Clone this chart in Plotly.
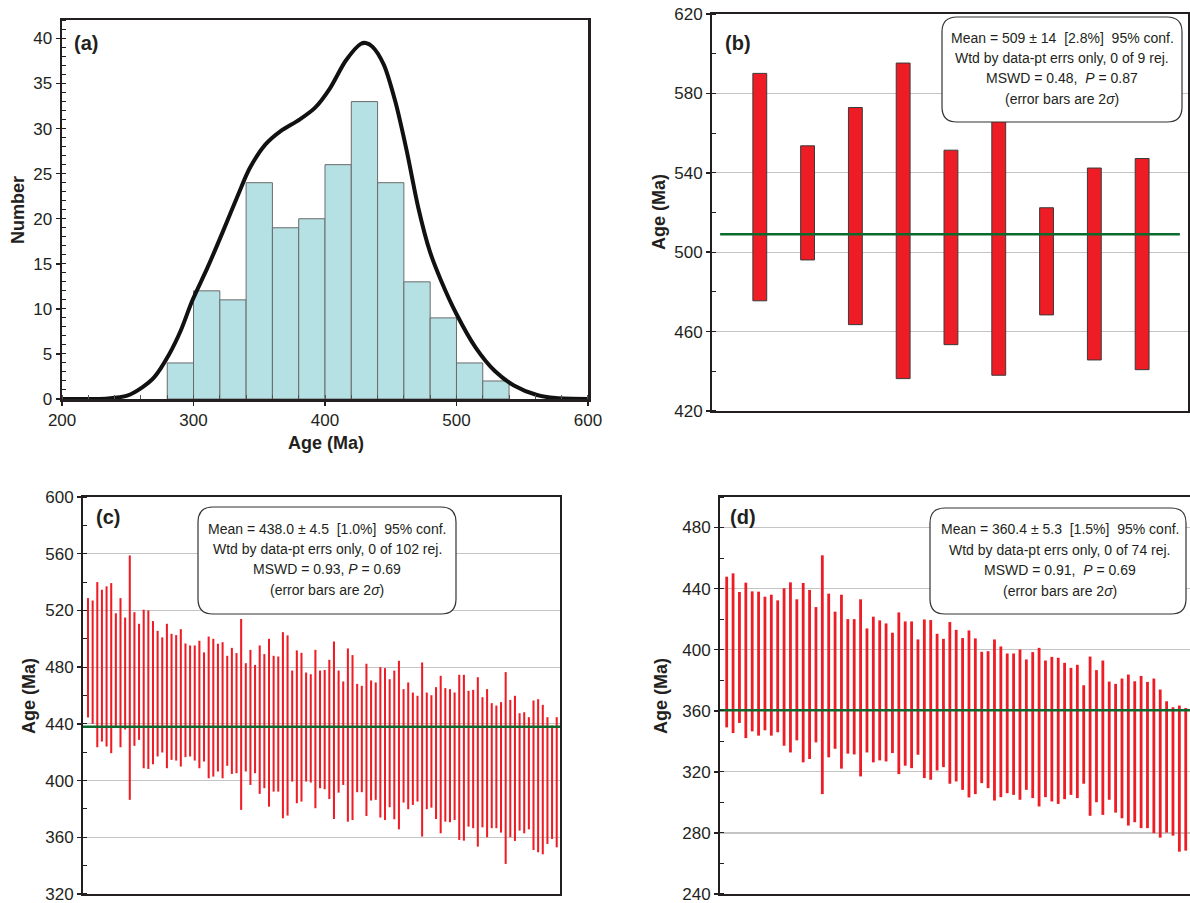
import plotly.graph_objects as go

# ---------------- DATA ----------------
# Panel (a): histogram (20 Ma bins) + probability density curve
hist_bin_start = [280, 300, 320, 340, 360, 380, 400, 420, 440, 460, 480, 500, 520]
hist_counts = [4, 12, 11, 24, 19, 20, 26, 33, 24, 13, 9, 4, 2]
hist_bin_width = 20
kde_age = [200, 235, 249.5, 261, 270, 281.6, 290.3, 299, 310.7, 322.4, 334, 342.7, 354.4,
           366, 380.6, 392.3, 403.9, 415.6, 427.2, 431, 436, 444.7, 453.5, 462.2, 471, 479.7,
           488.4, 500.1, 514.6, 529.2, 543.7, 561.2, 575.7, 600]
kde_num = [0, 0.07, 0.37, 1.3, 2.4, 5.0, 7.6, 10.9, 14.6, 18.6, 22.7, 25.6, 28.2,
           29.7, 31.0, 32.3, 34.5, 37.5, 39.4, 39.5, 39.1, 37.1, 33.0, 27.5, 21.2, 16.4,
           13.1, 9.4, 5.7, 3.1, 1.5, 0.44, 0.1, 0]

# Panel (b): 9 ages, 2-sigma bars
b_top = [590.1, 553.6, 572.9, 595.3, 551.4, 566.0, 522.4, 542.4, 547.2]
b_bottom = [475.5, 496.1, 463.5, 436.3, 453.4, 438.0, 468.4, 445.7, 440.8]
b_mean = 509
b_text = ["Mean = 509 ± 14  [2.8%]  95% conf.",
          "Wtd by data-pt errs only, 0 of 9 rej.",
          "MSWD = 0.48,  <i>P</i> = 0.87",
          "(error bars are 2<i>σ</i>)"]

# Panel (c): 102 ages
c_top = [528.7, 527, 540, 534.6, 537, 539.3, 518, 528.7, 515, 558.8,
         518.8, 510.6, 520.5, 520, 512.5, 505.6, 501, 510.6, 503.5, 502.6,
         506.8, 496.7, 495.3, 495.3, 498.6, 490.4, 501.6, 500, 496.5, 497.6,
         488, 493.6, 489.9, 514, 482.8, 492.2, 481.6, 495.3, 489.2, 500,
         488, 487.5, 504.7, 502.4, 477.6, 491.8, 490.1, 476.2, 475, 492.2,
         477.6, 478, 485.2, 498.1, 477.6, 469.9, 493.2, 488.5, 468.2, 466.8,
         482.4, 470.6, 469.2, 480, 479.3, 471.5, 477.6, 484.5, 464.5, 469.2,
         462.1, 459.8, 483.3, 462.1, 460.2, 465.9, 473.9, 465.2, 464.5, 462.1,
         474.6, 474.6, 463.3, 464, 472.9, 458.8, 464.5, 454.6, 452.9, 455.3,
         476.5, 456.9, 459.8, 447.5, 448.2, 444.7, 456.5, 457.4, 453.4, 444.7,
         438.8, 444.7]
c_bottom = [444.5, 440, 423.5, 427.5, 424, 419.3, 437, 423.5, 436, 386.4,
            424.5, 428.7, 408.7, 408.2, 411.5, 417, 419.8, 408.7, 414.6, 414.1,
            409.9, 416.5, 417, 414.1, 408.7, 413.4, 401.6, 402.8, 406.4, 401.6,
            410.4, 404.7, 405.2, 379.3, 406.4, 396.9, 405.2, 390.6, 394.6, 381.6,
            392.2, 392.2, 373.4, 375.3, 399.3, 384, 385.2, 399.3, 398.6, 380.5,
            394.6, 393.9, 387, 372.9, 391.5, 396.9, 371, 372.2, 391.8, 391.8,
            375, 385.9, 386.4, 373.9, 372.2, 381.2, 372.7, 365.6, 384.5, 379.8,
            382.8, 385.2, 360.5, 379.8, 380.9, 372.9, 362.8, 371, 370.6, 372.2,
            358.1, 357.6, 367.5, 366.4, 353.4, 367, 360, 366.4, 366.4, 363.3,
            341.2, 360, 357.4, 364.7, 362.8, 365.6, 351, 349.4, 348, 355.3,
            358.8, 352.9]
c_mean = 438.0
c_text = ["Mean = 438.0 ± 4.5  [1.0%]  95% conf.",
          "Wtd by data-pt errs only, 0 of 102 rej.",
          "MSWD = 0.93, <i>P</i> = 0.69",
          "(error bars are 2<i>σ</i>)"]

# Panel (d): 74 ages
d_top = [447.8, 450, 437.8, 443.9, 438.2, 438, 434.7, 436, 432.3, 440.2,
         444.1, 433, 443.7, 439.1, 427.9, 461.8, 436.7, 424.9, 436, 420,
         420, 433, 413.9, 421.6, 419.2, 417.2, 411.1, 424.4, 418.5, 418.5,
         406.7, 419.8, 419.4, 410.4, 407.1, 418.1, 413, 407.6, 412.6, 407.4,
         398.6, 399, 406.7, 402.1, 397.5, 397.5, 400.1, 393.6, 398.4, 401.2,
         392.9, 395.3, 394.7, 391.4, 388.1, 390.1, 376.7, 395.5, 386.6, 392.9,
         379.1, 377.6, 381.1, 383.7, 379.3, 382.8, 378.9, 381.1, 373.9, 366.2,
         362.3, 363.4, 361.8, 360.0]
d_bottom = [349.1, 345.4, 352, 342.1, 346.5, 343.7, 347.2, 343.7, 345.9, 337.1,
            332.7, 340.6, 326.2, 328.4, 339.3, 305.4, 329.5, 335.1, 322.1, 331.9,
            331.4, 317, 332.7, 326.2, 327.5, 326.8, 332.3, 318.5, 324, 322.4,
            331.2, 315.9, 314.8, 320.9, 323.1, 312.2, 313.7, 308.2, 303.2, 305.4,
            312.6, 309.3, 301.2, 303.4, 306, 304.9, 301.7, 308.2, 302.8, 297.3,
            303.4, 300.6, 299, 302.1, 304.9, 302.8, 312.2, 291.2, 300.1, 291.8,
            301.7, 293.3, 289.6, 284.8, 287, 283.1, 283.1, 279.8, 276.9, 280.2,
            278.2, 267.7, 268.4, 266.0]
d_mean = 360.4
d_text = ["Mean = 360.4 ± 5.3  [1.5%]  95% conf.",
          "Wtd by data-pt errs only, 0 of 74 rej.",
          "MSWD = 0.91,  <i>P</i> = 0.69",
          "(error bars are 2<i>σ</i>)"]

# ---------------- LAYOUT HELPERS ----------------
# The page body margin is removed (post_script), so figure pixels = window pixels.
W, H = 1190, 903
def fx(px):
    return px / W
def fy(py):
    return 1 - py / H

RED = "#ee1c25"
GREEN = "#0b6b2e"
INK = "#231f20"
GRID = "#c4c4c4"
FONT = "Liberation Sans, Arial, sans-serif"
EPS = 0.02

fig = go.Figure()

# Panel (a)
fig.add_trace(go.Bar(
    x=[s + hist_bin_width / 2 for s in hist_bin_start], y=hist_counts, width=hist_bin_width,
    marker=dict(color="#b5e1e4", line=dict(color="#6a6a6a", width=1)),
    xaxis="x", yaxis="y", showlegend=False))
fig.add_trace(go.Scatter(
    x=kde_age, y=kde_num, mode="lines", line=dict(color="#111111", width=4, shape="spline", smoothing=0.8),
    xaxis="x", yaxis="y", showlegend=False))

# Panel (b)
nb = len(b_top)
fig.add_trace(go.Bar(
    x=list(range(1, nb + 1)), y=[t - b for t, b in zip(b_top, b_bottom)], base=b_bottom, width=0.29,
    marker=dict(color=RED, line=dict(color="#3a3a3a", width=1)),
    xaxis="x2", yaxis="y2", showlegend=False))
fig.add_trace(go.Scatter(
    x=[0.17, 9.79], y=[b_mean, b_mean], mode="lines", line=dict(color=GREEN, width=2.5),
    xaxis="x2", yaxis="y2", showlegend=False))

# Panel (c)
nc = len(c_top)
fig.add_trace(go.Bar(
    x=list(range(1, nc + 1)), y=[t - b for t, b in zip(c_top, c_bottom)], base=c_bottom, width=0.44,
    marker=dict(color=RED, line=dict(width=0)),
    xaxis="x3", yaxis="y3", showlegend=False))
fig.add_trace(go.Scatter(
    x=[-0.08, 102.71], y=[c_mean, c_mean], mode="lines", line=dict(color=GREEN, width=2.5),
    xaxis="x3", yaxis="y3", showlegend=False))

# Panel (d)
nd = len(d_top)
fig.add_trace(go.Bar(
    x=list(range(1, nd + 1)), y=[t - b for t, b in zip(d_top, d_bottom)], base=d_bottom, width=0.44,
    marker=dict(color=RED, line=dict(width=0)),
    xaxis="x4", yaxis="y4", showlegend=False))
fig.add_trace(go.Scatter(
    x=[-0.05, 73.67], y=[d_mean, d_mean], mode="lines", line=dict(color=GREEN, width=2.5),
    xaxis="x4", yaxis="y4", showlegend=False))

tickfont = dict(family=FONT, size=17, color=INK)

def yax(domain, lo, hi, dtick, minor_dtick, anchor, grid, lw=2, minor_ticks="inside"):
    return dict(domain=domain, range=[lo - EPS, hi + EPS], anchor=anchor,
                tickvals=list(range(lo, hi + 1, dtick)), ticklabeloverflow="allow",
                showline=True, linecolor=INK, linewidth=lw, mirror=True,
                ticks="outside", ticklen=4, tickwidth=1.5, tickcolor=INK,
                minor=dict(dtick=minor_dtick, tick0=lo, ticks=minor_ticks, ticklen=4,
                           tickwidth=1, tickcolor=INK, showgrid=False),
                showgrid=grid, gridcolor=GRID, gridwidth=1.3, zeroline=False,
                tickfont=tickfont, automargin=False, fixedrange=True)

def xax_blank(domain, rng, anchor, mirror=True):
    return dict(domain=domain, range=rng, anchor=anchor, showline=True, linecolor=INK,
                linewidth=2, mirror=mirror, ticks="", showticklabels=False,
                showgrid=False, zeroline=False, automargin=False, fixedrange=True)

ya = yax([fy(399), fy(20)], 0, 40, 5, 1, "x", False, lw=2.5)
ya["range"] = [0, 42.05]

fig.update_layout(
    width=W, height=H, margin=dict(l=0, r=0, t=0, b=0),
    paper_bgcolor="white", plot_bgcolor="white", barmode="overlay", showlegend=False,
    hovermode=False,
    xaxis=dict(domain=[fx(62), fx(588)], range=[200 - 0.05, 600 + 0.05], anchor="y",
               showline=True, linecolor=INK, linewidth=2.5, mirror=True,
               tickvals=[200, 300, 400, 500, 600], ticks="outside", ticklen=4, tickwidth=1.5,
               tickcolor=INK, ticklabeloverflow="allow",
               minor=dict(dtick=20, tick0=200, ticks="inside", ticklen=4, tickwidth=1,
                          tickcolor="#555", showgrid=False),
               showgrid=False, zeroline=False, tickfont=tickfont, automargin=False),
    yaxis=ya,
    xaxis2=xax_blank([fx(712), fx(1188)], [0, 9.96], "y2"),
    yaxis2=yax([fy(411), fy(14)], 420, 620, 40, 20, "x2", True),
    xaxis3=xax_blank([fx(83), fx(560)], [-0.08, 102.71], "y3"),
    yaxis3=yax([fy(894), fy(497)], 320, 600, 40, 20, "x3", True),
    xaxis4=xax_blank([fx(720), 1.0], [-0.05, 73.67], "y4", mirror=True),
    yaxis4=yax([fy(894), fy(497)], 240, 480, 40, 20, "x4", True),
)
fig.layout.yaxis4.range = [240 - EPS, 500]
fig.layout.yaxis4.mirror = False

# Rounded text boxes
def rounded_rect(x0, y0, x1, y1, r):
    pts = [
        ("M", [(x0 + r, y0)]), ("L", [(x1 - r, y0)]), ("Q", [(x1, y0), (x1, y0 + r)]),
        ("L", [(x1, y1 - r)]), ("Q", [(x1, y1), (x1 - r, y1)]), ("L", [(x0 + r, y1)]),
        ("Q", [(x0, y1), (x0, y1 - r)]), ("L", [(x0, y0 + r)]), ("Q", [(x0, y0), (x0 + r, y0)]),
    ]
    s = ""
    for cmd, ps in pts:
        s += cmd + " " + " ".join(f"{fx(px):.5f},{fy(py):.5f}" for px, py in ps) + " "
    return s + "Z"

boxes = [
    ((942, 17, 1182, 122), 1062, [38, 58, 78, 99], b_text),
    ((198, 507, 456, 614), 327, [529, 549, 569, 590], c_text),
    ((930, 508, 1186, 614), 1060, [529, 550, 570, 591], d_text),
]
annotations = []
shapes = []
for (x0, y0, x1, y1), cx, lines_y, texts in boxes:
    shapes.append(dict(type="path", path=rounded_rect(x0, y0, x1, y1, 15), xref="paper", yref="paper",
                       fillcolor="white", line=dict(color="#333333", width=1.2), layer="above"))
    for ty, t in zip(lines_y, texts):
        annotations.append(dict(x=fx(cx), y=fy(ty), xref="paper", yref="paper", text=t, showarrow=False,
                                xanchor="center", yanchor="middle",
                                font=dict(family=FONT, size=14, color=INK)))

# Panel labels
for lab, px, py in [("(a)", 86, 43), ("(b)", 738, 43), ("(c)", 108, 517), ("(d)", 743, 517)]:
    annotations.append(dict(x=fx(px), y=fy(py), xref="paper", yref="paper", text=f"<b>{lab}</b>",
                            showarrow=False, xanchor="center", yanchor="middle",
                            font=dict(family=FONT, size=20, color=INK)))

# Axis titles
titles = [("Age (Ma)", 326, 443, 0), ("Number", 18, 210, -90), ("Age (Ma)", 659, 212, -90),
          ("Age (Ma)", 29, 696, -90), ("Age (Ma)", 661, 696, -90)]
for t, px, py, ang in titles:
    annotations.append(dict(x=fx(px), y=fy(py), xref="paper", yref="paper", text=f"<b>{t}</b>",
                            showarrow=False, xanchor="center", yanchor="middle", textangle=ang,
                            font=dict(family=FONT, size=18, color=INK)))

fig.update_layout(annotations=annotations, shapes=shapes)
fig.write_html("out.html", config={"displayModeBar": False, "staticPlot": True},
               post_script="document.body.style.margin='0px';document.body.style.overflow='hidden';")
